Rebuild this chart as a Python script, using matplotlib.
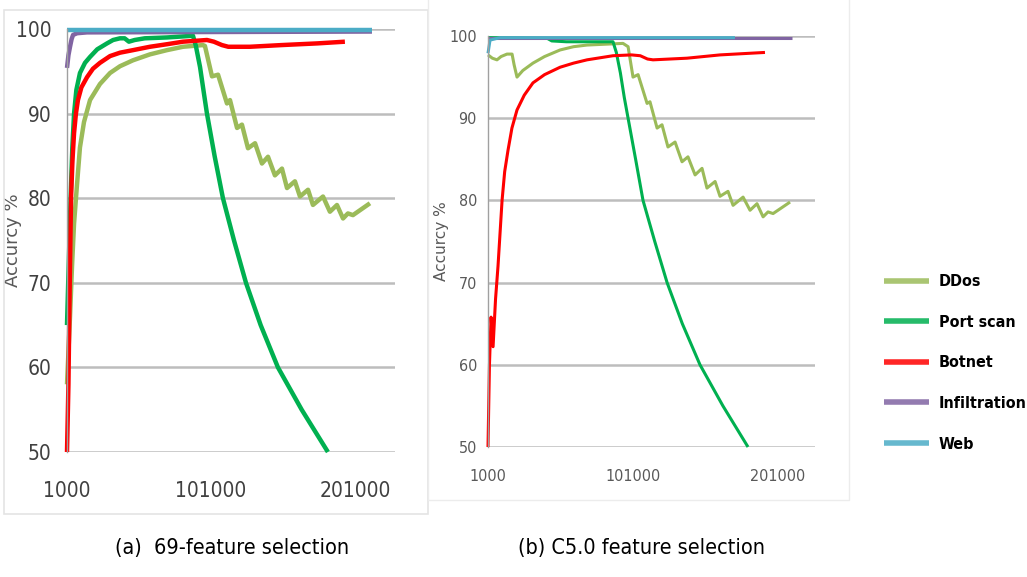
import numpy as np
import matplotlib
matplotlib.use("Agg")
import matplotlib.pyplot as plt
from matplotlib.patches import Rectangle

plt.rcParams['font.family'] = ['DejaVu Sans']
plt.rcParams['font.stretch'] = 'condensed'

series_names = ['DDos', 'Port scan', 'Botnet', 'Infiltration', 'Web']
colors = ['#9bbb59', '#00b050', '#ff0000', '#8064a2', '#4bacc6']

# (a) 69-feature selection
a_ddos_x = [1000, 3100, 4500, 5900, 7900, 10000, 12800, 17000, 23900, 30900, 37800, 46800,
            58600, 70400, 81600, 95400, 96800,
            101700, 105900, 112100, 114200, 119100, 122500, 126700, 131600, 136400, 140600,
            145400, 150300, 153800, 159300, 162800, 168400, 171800, 178800, 183600, 188500,
            192700, 196100, 199600, 211400]
a_ddos_y = [58, 66, 72, 77, 81.5, 86, 89, 91.6, 93.5, 94.8, 95.6, 96.3,
            97.0, 97.5, 97.9, 98.1, 98.0,
            94.4, 94.6, 91.2, 91.6, 88.3, 88.7, 85.9, 86.5, 84.1, 84.9,
            82.7, 83.5, 81.2, 82.0, 80.2, 81.0, 79.2, 80.2, 78.4, 79.2,
            77.6, 78.2, 78.0, 79.4]
a_port_x = [1000, 2000, 3500, 4700, 5900, 7500, 10000, 13500, 17000, 22000, 28800, 33000,
            37800, 41000, 44000, 48000, 55000, 70400, 88500,
            90500, 93400, 96000, 98200, 103500, 109300, 117000, 125300, 135500, 147500,
            164000, 182200]
a_port_y = [65, 71, 80, 86, 90, 92.8, 94.8, 96.0, 96.7, 97.6, 98.3, 98.7,
            98.9, 98.9, 98.5, 98.7, 98.9, 99.0, 99.2,
            98.0, 95.5, 92.5, 90.0, 85.0, 80.0, 75.0, 70.0, 65.0, 60.0,
            55.0, 50.0]
a_bot_x = [1000, 2000, 2900, 3800, 4800, 5900, 7200, 8600, 11000, 14900, 19000, 23900,
           30900, 37800, 46800, 58600, 70400, 81600, 98200, 103000, 108600, 113000,
           128000, 150000, 175000, 194000]
a_bot_y = [50, 58, 70, 80, 84.5, 87.7, 90.0, 91.6, 93.1, 94.3, 95.3, 96.0,
           96.8, 97.2, 97.5, 97.9, 98.2, 98.5, 98.7, 98.5, 98.1, 97.9,
           97.9, 98.1, 98.3, 98.5]
a_inf_x = [1000, 2000, 3100, 4200, 5200, 8000, 14900, 212800]
a_inf_y = [95.4, 96.9, 97.9, 98.8, 99.3, 99.5, 99.6, 99.7]
a_web_x = [1000, 212800]
a_web_y = [99.9, 99.9]

# (b) C5.0 feature selection
b_ddos_x = [1000, 4000, 7200, 10000, 14100, 17600, 19000, 21000, 25000, 32000, 40000,
            50700, 60000, 69300, 94100, 97600,
            101000, 104500, 110700, 112700, 117600, 121000, 125100, 130000, 134800, 138900,
            143800, 148600, 152000, 157600, 161000, 166500, 170000, 176900, 181700, 186500,
            190700, 194100, 197600, 209300]
b_ddos_y = [97.7, 97.3, 97.1, 97.5, 97.8, 97.8, 96.5, 95.0, 95.8, 96.7, 97.5,
            98.3, 98.7, 98.9, 99.1, 98.7,
            95.0, 95.3, 91.8, 92.0, 88.8, 89.2, 86.5, 87.1, 84.7, 85.3,
            83.1, 83.9, 81.5, 82.3, 80.5, 81.1, 79.4, 80.4, 78.8, 79.6,
            78.0, 78.6, 78.4, 79.8]
b_port_x = [1000, 42000, 45000, 55000, 87200, 89500, 92300, 95000, 97600, 102800, 107900,
            116000, 124500, 135000, 147200, 163000, 180300]
b_port_y = [99.8, 99.7, 99.4, 99.3, 99.3, 98.0, 95.5, 92.5, 90.0, 85.0, 80.0,
            75.0, 70.0, 65.0, 60.0, 55.0, 50.0]
b_bot_x = [1000, 2000, 3100, 4500, 6200, 7900, 10700, 12500, 14800, 17500, 21000, 26000,
           32000, 40000, 50700, 60000, 69300, 87200, 100000, 106000, 111000, 114800,
           138200, 161000, 192000]
b_bot_y = [50, 60, 65.8, 62.2, 68, 72, 80.0, 83.5, 86.1, 88.8, 91.0, 92.8,
           94.3, 95.3, 96.2, 96.7, 97.1, 97.6, 97.7, 97.6, 97.2, 97.1,
           97.3, 97.7, 98.0]
b_inf_x = [1000, 210600]
b_inf_y = [99.8, 99.8]
b_web_x = [1000, 2400, 9300, 171300]
b_web_y = [97.9, 99.5, 99.8, 99.8]

yticks = [50, 60, 70, 80, 90, 100]
xticks = [1000, 101000, 201000]

W, H = 1027, 577
fig = plt.figure(figsize=(W / 100, H / 100), dpi=100)

# light panel frames
fig.patches.append(Rectangle((4 / W, 1 - 514 / H), 424 / W, 504 / H, transform=fig.transFigure,
                             fill=False, edgecolor='#e4e4e4', lw=1.2))
fig.patches.append(Rectangle((428 / W, 1 - 500 / H), 421 / W, 502 / H, transform=fig.transFigure,
                             fill=False, edgecolor='#ececec', lw=1.0))


def setup(ax, xmax, fs, pad_y, pad_x, lblx, tick_color, lbl_fs):
    ax.set_xlim(1000, xmax)
    ax.set_ylim(50, 100)
    ax.set_yticks(yticks)
    ax.set_xticks(xticks)
    ax.set_xticklabels([str(v) for v in xticks])
    ax.grid(axis='y', color='#bdbdbd', lw=1.8)
    ax.set_axisbelow(True)
    for s in ['top', 'right', 'bottom']:
        ax.spines[s].set_visible(False)
    ax.spines['left'].set_color('#a0a0a0')
    ax.spines['left'].set_linewidth(1)
    ax.tick_params(axis='y', length=0, pad=pad_y, labelsize=fs, labelcolor=tick_color)
    ax.tick_params(axis='x', length=0, pad=pad_x, labelsize=fs, labelcolor=tick_color)
    ax.set_ylabel('Accurcy %', fontsize=lbl_fs, color='#595959', fontstretch='normal')
    ax.yaxis.set_label_coords(lblx, 0.5)


ax1 = fig.add_axes([67 / W, 1 - 452 / H, 328 / W, 423 / H])
setup(ax1, 228800, 15, 11, 21, -0.137, '#404040', 13)
a_data = [(a_ddos_x, a_ddos_y), (a_port_x, a_port_y), (a_bot_x, a_bot_y),
          (a_inf_x, a_inf_y), (a_web_x, a_web_y)]
for (xs, ys), c, n in zip(a_data, colors, series_names):
    ax1.plot(xs, ys, color=c, lw=3.2, label=n, clip_on=False, solid_capstyle='butt')

ax2 = fig.add_axes([488 / W, 1 - 447 / H, 327 / W, 411 / H])
setup(ax2, 226500, 11.5, 8, 16, -0.119, '#595959', 11)
b_data = [(b_ddos_x, b_ddos_y), (b_port_x, b_port_y), (b_bot_x, b_bot_y),
          (b_inf_x, b_inf_y), (b_web_x, b_web_y)]
lines = []
for (xs, ys), c, n in zip(b_data, colors, series_names):
    ln, = ax2.plot(xs, ys, color=c, lw=2.2, label=n, clip_on=False, solid_capstyle='butt')
    lines.append(ln)

leg = fig.legend(handles=lines, labels=series_names, loc='upper left',
                 bbox_to_anchor=(870 / W, 1 - 260 / H), frameon=False,
                 prop={'size': 11.5, 'weight': 'bold'}, handlelength=2.8,
                 labelspacing=1.6, handletextpad=0.6)
for h in leg.legend_handles:
    h.set_linewidth(4)
    h.set_alpha(0.85)

fig.text(232 / W, 1 - 548 / H, '(a)  69-feature selection', ha='center', va='center', fontsize=15.5)
fig.text(642 / W, 1 - 548 / H, '(b) C5.0 feature selection', ha='center', va='center', fontsize=15.5)

fig.savefig('out.png', dpi=100)
